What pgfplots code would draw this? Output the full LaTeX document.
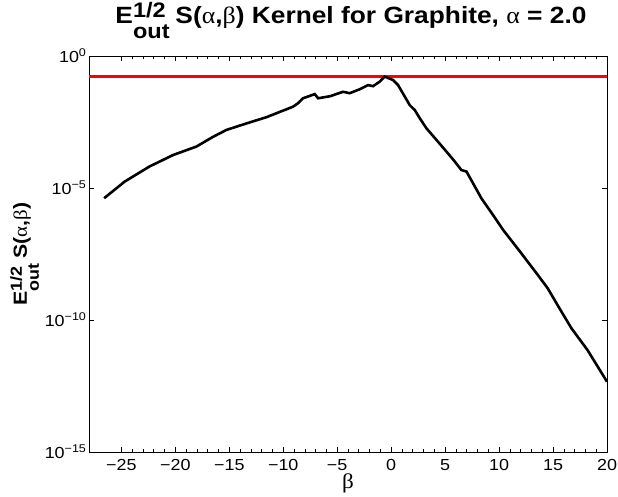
\documentclass[border=0pt]{standalone}
\usepackage{fontspec}
\setmainfont{Liberation Sans}[FakeStretch=1.12]
\newfontfamily\grk{Liberation Serif}[FakeStretch=1.1]
\usepackage{pgfplots}
\pgfplotsset{compat=1.18}
% E^{1/2}_{out}: #1 size of 1/2 and out, #2 raise, #3 lower
\newcommand{\Eout}[3]{E\makebox[0pt][l]{\raisebox{#2}{\fontsize{#1}{#1}\selectfont 1/2}}\raisebox{#3}{\fontsize{#1}{#1}\selectfont out}}
\begin{document}
\begin{tikzpicture}
\path[use as bounding box] (-89pt,-45pt) rectangle (529pt,452pt);
\begin{axis}[
  at={(0pt,0pt)}, anchor=south west,
  scale only axis, width=518pt, height=396pt,
  xmin=-28, xmax=20, ymode=log, ymin=1e-15, ymax=1,
  axis line style={line width=0.8pt},
  tick style={line width=0.6pt, black},
  tick align=inside, major tick length=5pt, minor tick length=3pt,
  xtick={-25,-20,-15,-10,-5,0,5,10,15,20},
  xticklabels={−25,−20,−15,−10,−5,0,5,10,15,20},
  minor x tick num=4,
  ytick={1e-15,1e-10,1e-5,1},
  yticklabels={10\textsuperscript{−15},10\textsuperscript{−10},10\textsuperscript{−5},10\textsuperscript{0}},
  yminorticks=false,
  ticklabel style={font=\fontsize{16}{18}\selectfont},
  xticklabel style={yshift=-3.5pt},
  yticklabel style={xshift=1pt},
  xlabel={\grk β},
  xlabel style={font=\fontsize{21}{22}\selectfont, at={(axis description cs:0.5,0)}, anchor=base, yshift=-36pt},
  ylabel={\bfseries \Eout{16}{5pt}{-12pt}\hspace{0.25em}S(\textmd{\grk α},\textmd{\grk β})},
  ylabel style={font=\fontsize{19}{20}\selectfont, at={(axis description cs:0,0.5)}, anchor=base, yshift=62pt},
  title={\bfseries \Eout{21}{6pt}{-15pt}\hspace{0.25em}S(\textmd{\grk α},\textmd{\grk β}) Kernel for Graphite, \textmd{\grk α} = 2.0},
  title style={font=\fontsize{23.5}{25}\selectfont, at={(axis description cs:0.5,1)}, anchor=base, yshift=26.7pt, xshift=3pt},
]
\addplot[red, line width=2.7pt] coordinates {(-28,0.166) (20,0.166)};
\addplot[black, line width=2.6pt] coordinates {
(-26.6,4.1e-6) (-24.7,1.74e-5) (-22.4,6.5e-5) (-20.2,1.78e-4) (-18.05,3.7e-4)
(-16.5,8.7e-4) (-15.27,1.58e-3) (-13.4,2.8e-3) (-11.56,4.8e-3) (-9.1,1.2e-2)
(-8.63,1.62e-2) (-8.17,2.5e-2) (-7.08,3.6e-2) (-6.77,2.5e-2) (-5.66,3.0e-2)
(-4.46,4.4e-2) (-3.84,3.9e-2) (-2.91,5.5e-2) (-2.14,7.9e-2) (-1.68,7.2e-2)
(-1.06,0.107) (-0.6,0.166) (0.17,0.123) (0.64,7.9e-2) (1.26,2.9e-2)
(1.72,1.38e-2) (2.19,8.9e-3) (2.65,4.4e-3) (3.27,1.82e-3) (4.2,6.6e-4)
(5.12,2.4e-4) (5.9,1.0e-4) (6.5,4.8e-5) (6.98,4.2e-5) (7.59,1.5e-5)
(8.37,4.0e-6) (9.44,9.5e-7) (10.37,2.6e-7) (12.05,3.4e-8) (13.6,5.0e-9)
(14.5,1.6e-9) (15.6,2.75e-10) (16.7,4.9e-11) (18.2,7.2e-12) (20,4.6e-13)
};
\end{axis}
\end{tikzpicture}
\end{document}
